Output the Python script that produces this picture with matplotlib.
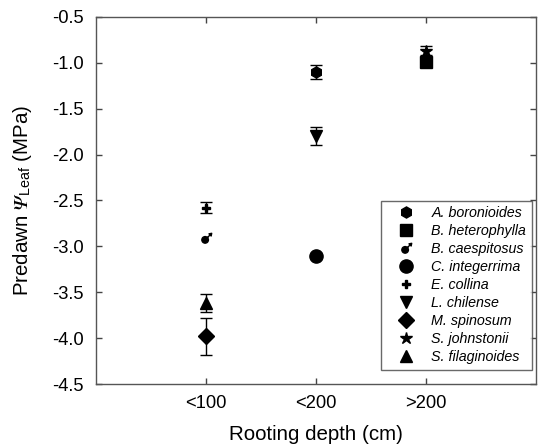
import numpy as np
import matplotlib
matplotlib.use("Agg")
import matplotlib.pyplot as plt
from matplotlib.path import Path

plt.rcParams['font.family'] = ['Liberation Sans', 'DejaVu Sans']
plt.rcParams['mathtext.fontset'] = 'custom'
plt.rcParams['mathtext.rm'] = 'STIXGeneral'
plt.rcParams['mathtext.it'] = 'STIXGeneral:italic'
plt.rcParams['mathtext.sf'] = 'Liberation Sans'

# data
depths = ['<100', '<200', '>200']
species = ['A. boronioides', 'B. heterophylla', 'B. caespitosus', 'C. integerrima',
           'E. collina', 'L. chilense', 'M. spinosum', 'S. johnstonii', 'S. filaginoides']
depth_idx = [2, 3, 1, 2, 1, 2, 1, 3, 1]
psi_mean = [-1.10, -0.99, -2.91, -3.10, -2.58, -1.80, -3.98, -0.87, -3.62]
psi_err = [0.08, 0.0, 0.0, 0.0, 0.06, 0.10, 0.20, 0.05, 0.10]

# male-symbol like marker: filled circle with arrow
circ = Path.circle(center=(-0.25, -0.25), radius=0.6)
stem = Path([(0.15, 0.15), (0.65, 0.65)], [Path.MOVETO, Path.LINETO])
head = Path([(0.95, 0.95), (0.45, 0.85), (0.85, 0.45), (0.95, 0.95)],
            [Path.MOVETO, Path.LINETO, Path.LINETO, Path.CLOSEPOLY])
male = Path.make_compound_path(circ, stem, head)

markers = ['h', 's', male, 'o', 'P', 'v', 'D', '*', '^']
sizes = [8, 8, 7.5, 9.5, 6, 8.5, 8, 9, 8.5]

fig = plt.figure(figsize=(5.38, 4.46), dpi=100)
ax = fig.add_axes([0.178, 0.139, 0.818, 0.823])

for i in range(len(species)):
    err = psi_err[i] if psi_err[i] > 0 else None
    ax.errorbar(depth_idx[i], psi_mean[i], yerr=err, fmt='none', ecolor='black',
                elinewidth=1, capsize=4.3, capthick=1)
    ax.plot(depth_idx[i], psi_mean[i], linestyle='none', marker=markers[i],
            markersize=sizes[i], color='black', label=species[i])

ax.set_xlim(0, 4)
ax.set_ylim(-4.5, -0.5)
ax.set_xticks([1, 2, 3])
ax.set_xticklabels(depths)
ax.set_yticks(np.arange(-4.5, -0.49, 0.5))
ax.set_yticklabels(['%.1f' % v for v in np.arange(-4.5, -0.49, 0.5)])
ax.tick_params(direction='in', top=True, right=True, length=4, width=1,
               color='#444444', labelsize=13.2)
ax.tick_params(axis='x', pad=8)
ax.tick_params(axis='y', pad=9)
for s in ax.spines.values():
    s.set_color('#555555')
    s.set_linewidth(1)

ax.set_xlabel('Rooting depth (cm)', fontsize=14.8, labelpad=9)
# U+1D6F9 = mathematical italic capital psi
ax.set_ylabel('Predawn $\\mathit{\U0001D6F9}_{\\mathsf{Leaf}}$ (MPa)', fontsize=14.8,
              labelpad=13)

leg = ax.legend(loc='lower right', bbox_to_anchor=(0.991, 0.038), borderaxespad=0,
                frameon=True, fancybox=False, edgecolor='#444444',
                prop={'style': 'italic', 'size': 10.3}, labelspacing=0.28,
                handletextpad=0.4, borderpad=0.4, handlelength=2.7)
leg.get_frame().set_linewidth(1)

plt.savefig('out.png', dpi=100)
